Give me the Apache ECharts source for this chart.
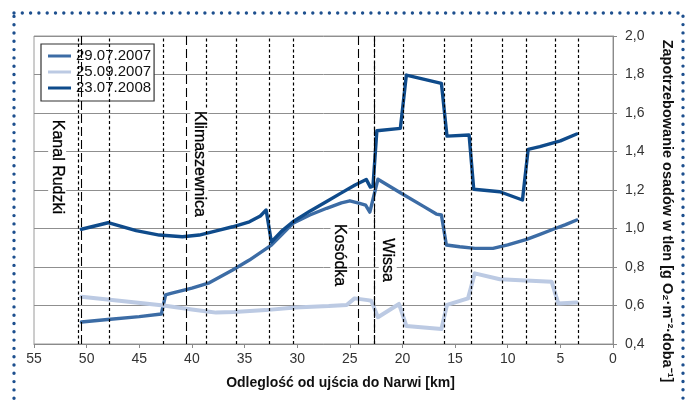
<!DOCTYPE html>
<html><head><meta charset="utf-8">
<script src="https://cdn.jsdelivr.net/npm/echarts@6/dist/echarts.min.js"></script>
<style>html,body{margin:0;padding:0;background:#fff}#c{width:689px;height:402px}</style>
</head><body><div id="c"></div>
<script>
// ---- data (km from mouth to Narew, oxygen demand) ----
const seriesNames = ['29.07.2007', '25.09.2007', '23.07.2008'];

const km_20070729 = [50.5, 48, 45, 42.9, 42.5, 42.0, 40.0, 38.35, 36.13, 34.54, 32.45, 30.4, 28.8, 27.2, 25.8, 25.0, 24.07, 23.5, 23.1, 22.96, 22.33, 20.2, 18, 16.78, 16.3, 15.83, 14.56, 13.1, 11.4, 10, 8.2, 7, 5.68, 4.5, 3.45];
const val_20070729 = [0.514, 0.527, 0.542, 0.556, 0.655, 0.663, 0.69, 0.718, 0.784, 0.836, 0.914, 1.027, 1.07, 1.105, 1.133, 1.144, 1.131, 1.122, 1.085, 1.075, 1.256, 1.186, 1.115, 1.075, 1.07, 0.914, 0.905, 0.897, 0.897, 0.915, 0.944, 0.968, 0.996, 1.02, 1.044];

const km_20070925 = [50.5, 46, 42.7, 40, 38.35, 37.7, 36, 33, 30.2, 27, 25.3, 24.55, 23.3, 22.96, 22.33, 20.33, 19.63, 16.3, 15.77, 13.77, 13.13, 10.75, 5.83, 5.2, 3.45];
const val_20070925 = [0.646, 0.619, 0.600, 0.579, 0.568, 0.563, 0.566, 0.576, 0.590, 0.597, 0.603, 0.637, 0.628, 0.625, 0.539, 0.608, 0.494, 0.478, 0.603, 0.637, 0.767, 0.736, 0.724, 0.611, 0.615];

const km_20080723 = [50.5, 47.96, 45.3, 43.1, 40.9, 39.3, 37.5, 36.13, 34.54, 33.5, 32.95, 32.45, 31.5, 30.4, 28.8, 27.2, 25.8, 24.5, 23.44, 23.05, 22.8, 22.43, 20.2, 19.63, 16.3, 15.77, 13.67, 13.23, 10.75, 8.6, 8.06, 6.95, 5, 3.45];
const val_20080723 = [0.996, 1.03, 0.989, 0.966, 0.957, 0.966, 0.99, 1.009, 1.035, 1.065, 1.096, 0.93, 0.985, 1.035, 1.09, 1.14, 1.185, 1.226, 1.255, 1.215, 1.22, 1.508, 1.52, 1.797, 1.754, 1.48, 1.486, 1.204, 1.191, 1.148, 1.411, 1.425, 1.455, 1.491];

// sampling points (short dashed) and tributary mouths (long dashed)
const samplingKm = [50.8, 47.86, 42.75, 38.6, 35.8, 32.7, 30.33, 22.71, 19.95, 15.99, 13.51, 10.53, 8.28, 5.52, 3.3];
const tributaryKm = [50.5, 40.57, 24.17, 22.71];
const tributaryNames = ['Kanal Rudzki', 'Klimaszewnica', 'Kosódka', 'Wissa'];

const xTitle = 'Odleglość od ujścia do Narwi [km]';
const yTitle = 'Zapotrzebowanie osadów w tlen [g O₂·m⁻²·doba⁻¹]';

// ---- build ----
const FONT = '"Liberation Sans", Arial, sans-serif';
const pairs = (k, v) => k.map((x, i) => [x, v[i]]);
const colors = ['#3c6ca5', '#bccae3', '#0f4b8b'];
const widths = [3.4, 4, 3.4];
const labelAnchors = [[52.8, 1.32], [39.3, 1.335], [25.98, 0.862], [21.4, 0.836]];

const dataSets = [
  pairs(km_20070729, val_20070729),
  pairs(km_20070925, val_20070925),
  pairs(km_20080723, val_20080723)
];

const vLines = [];
samplingKm.forEach(k => vLines.push({ xAxis: k, lineStyle: { type: [3, 2.5], color: '#000', width: 1.2 } }));
tributaryKm.forEach(k => vLines.push({ xAxis: k, lineStyle: { type: [9, 4], color: '#000', width: 1.1 } }));

const series = [
  {
    name: 'guides', type: 'line', data: [], z: 1, silent: true,
    markLine: { silent: true, symbol: ['none', 'none'], label: { show: false }, animation: false, data: vLines }
  }
];
seriesNames.forEach((n, i) => series.push({
  name: n, type: 'line', data: dataSets[i], showSymbol: false, symbol: 'none',
  z: 3, color: colors[i], lineStyle: { color: colors[i], width: widths[i], cap: 'round', join: 'round' }
}));
series.push({
  name: 'labels', type: 'scatter', data: [], z: 4, silent: true,
  markPoint: {
    symbol: 'rect', symbolSize: 1, itemStyle: { color: 'rgba(0,0,0,0)' }, animation: false,
    label: {
      show: true, position: 'inside', rotate: -90, formatter: p => p.name,
      fontFamily: FONT, fontSize: 16, color: '#000', backgroundColor: '#fff', padding: [1, 2],
      textBorderColor: '#000', textBorderWidth: 0.3
    },
    data: tributaryNames.map((n, i) => ({ name: n, coord: labelAnchors[i] }))
  }
});

const chart = echarts.init(document.getElementById('c'), null, { renderer: 'canvas' });
chart.setOption({
  animation: false,
  backgroundColor: '#fff',
  textStyle: { fontFamily: FONT },
  grid: { left: 34, right: 76, top: 36, bottom: 58, show: true, borderColor: '#9a9a9a', borderWidth: 1, backgroundColor: 'rgba(0,0,0,0)' },
  legend: {
    data: seriesNames, orient: 'vertical', left: 41, top: 44,
    backgroundColor: '#fff', borderColor: '#333', borderWidth: 1.2, borderRadius: 0,
    padding: [4, 3, 5, 7], itemGap: 0, itemWidth: 23, itemHeight: 3, icon: 'rect',
    textStyle: { fontFamily: FONT, fontSize: 15, color: '#111', lineHeight: 16 }
  },
  xAxis: {
    type: 'value', min: 0, max: 55, interval: 5, inverse: true,
    name: xTitle, nameLocation: 'middle', nameGap: 32,
    nameTextStyle: { fontFamily: FONT, fontSize: 14, fontWeight: 'bold', color: '#111', padding: [0, 0, 0, 34] },
    axisLine: { onZero: false, lineStyle: { color: '#8a8a8a' } },
    axisTick: { show: true, length: 4, lineStyle: { color: '#8a8a8a' } },
    axisLabel: { fontFamily: FONT, fontSize: 14, color: '#333', margin: 8 },
    splitLine: { show: false }
  },
  yAxis: {
    type: 'value', position: 'right', min: 0.4, max: 2.0, interval: 0.2,
    name: yTitle, nameLocation: 'middle', nameGap: 46, nameRotate: -90,
    nameTextStyle: { fontFamily: FONT, fontSize: 14.5, fontWeight: 'bold', color: '#111', padding: [0, 0, 0, 42] },
    axisLine: { show: true, onZero: false, lineStyle: { color: '#8a8a8a' } },
    axisTick: { show: true, length: 4, lineStyle: { color: '#8a8a8a' } },
    axisLabel: { fontFamily: FONT, fontSize: 14, color: '#333', margin: 12, formatter: v => v.toFixed(1).replace('.', ',') },
    splitLine: { show: true, lineStyle: { color: '#8f8f8f', width: 1 } }
  },
  graphic: [{
    type: 'rect', silent: true, z: 100,
    shape: { x: 14, y: 13, width: 669, height: 420 },
    style: { fill: 'none', stroke: '#1d4f8e', lineWidth: 3.4, lineDash: [0, 8.3], lineCap: 'round' }
  }],
  series: series
});
</script></body></html>
